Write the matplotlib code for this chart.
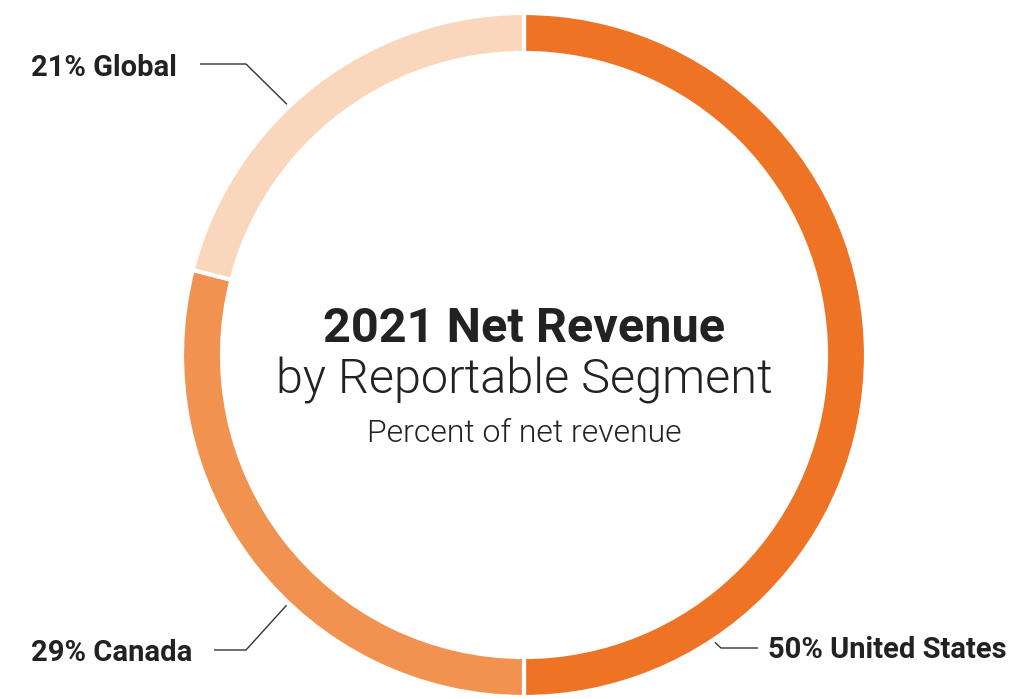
import matplotlib
matplotlib.use("Agg")
import matplotlib.pyplot as plt
import numpy as np

segments = ["United States", "Canada", "Global"]
shares = [50, 29, 21]
colors = ["#EE7325", "#F19251", "#FAD7BC"]
text_color = "#222222"

W, H = 1011, 699
fig = plt.figure(figsize=(W / 100, H / 100), dpi=100)
ax = fig.add_axes([0, 0, 1, 1])

cx, cy = 524, H - 355
R = 342
ax.pie(shares, colors=colors, startangle=90, counterclock=False,
       center=(cx, cy), radius=R, frame=True,
       wedgeprops=dict(width=40, edgecolor="white", linewidth=3))
ax.set_xlim(0, W)
ax.set_ylim(0, H)
ax.set_aspect("equal")
ax.axis("off")

fam = ["Roboto", "DejaVu Sans"]
ax.text(cx, H - 329, "2021 Net Revenue", ha="center", va="center",
        fontsize=35, fontweight="bold", family=fam, color=text_color)
ax.text(cx, H - 381, "by Reportable Segment", ha="center", va="center",
        fontsize=35, fontweight=300, family=fam, color=text_color)
ax.text(cx, H - 434, "Percent of net revenue", ha="center", va="center",
        fontsize=23, fontweight=300, family=fam, color=text_color)

# leader lines: angle clockwise from top, elbow x, end x, label x, line y, text y
leaders = {
    "Global": (316.6, 246, 200, 31, H - 64, H - 68),
    "Canada": (223.5, 246, 214, 31, H - 650, H - 653),
    "United States": (146.4, 721, 758, 768, H - 648, H - 650),
}
for name, share in zip(segments, shares):
    ang, ex, endx, lx, ly, ty = leaders[name]
    a = np.deg2rad(ang)
    px = cx + 345 * np.sin(a)
    py = cy + 345 * np.cos(a)
    ax.plot([px, ex, endx], [py, ly, ly], color="#333333", lw=1.0,
            solid_capstyle="butt")
    ax.text(lx, ty, f"{share}% {name}", ha="left", va="center",
            fontsize=21, fontweight="bold", family=fam, color=text_color)

fig.savefig("out.png", dpi=100, facecolor="white")
